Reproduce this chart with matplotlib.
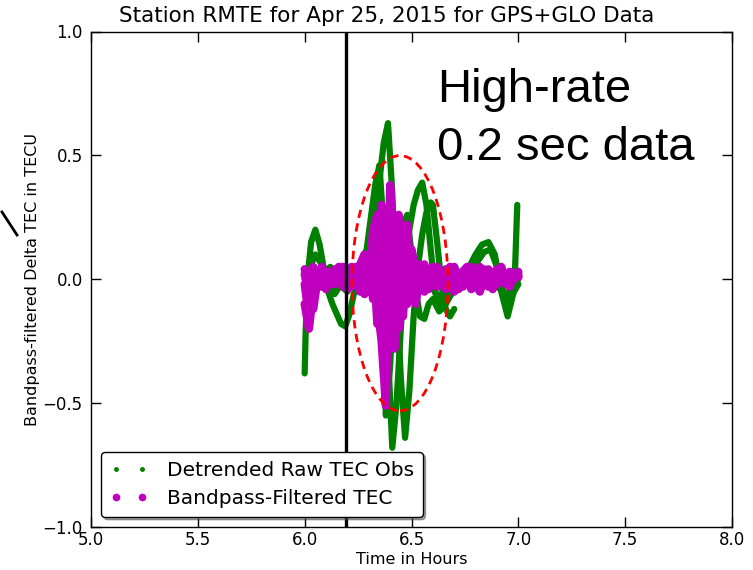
import matplotlib
matplotlib.use("Agg")
import matplotlib.pyplot as plt
from matplotlib.patches import Ellipse
from matplotlib.lines import Line2D

# ---------------- data ----------------
title = "Station RMTE for Apr 25, 2015 for GPS+GLO Data"
xlabel = "Time in Hours"
ylabel = "Bandpass-filtered Delta TEC in TECU"
legend_labels = ["Detrended Raw TEC Obs", "Bandpass-Filtered TEC"]
annotation = ["High-rate", "0.2 sec data"]

x_ticks = [5.0, 5.5, 6.0, 6.5, 7.0, 7.5, 8.0]
y_ticks = [-1.0, -0.5, 0.0, 0.5, 1.0]

event_time = 6.195
ellipse_center = (6.446, -0.016)
ellipse_size = (0.449, 1.03)

# detrended raw TEC (green) tracks
g1_t = [6.000, 6.005, 6.015, 6.030, 6.050, 6.070, 6.090, 6.110, 6.130, 6.150,
        6.170, 6.190, 6.210, 6.230, 6.250, 6.270, 6.290, 6.310, 6.330, 6.350,
        6.370, 6.390, 6.410, 6.430, 6.450, 6.470, 6.490, 6.510, 6.530, 6.550,
        6.570, 6.590, 6.600, 6.620, 6.640, 6.660, 6.680, 6.700]
g1_v = [-0.38, -0.20, 0.02, 0.15, 0.20, 0.14, 0.04, -0.05, -0.10, -0.14,
        -0.18, -0.19, -0.14, -0.06, 0.00, 0.03, 0.05, 0.12, 0.25, 0.40,
        0.55, 0.63, 0.35, -0.05, -0.40, -0.64, -0.45, -0.15, 0.05, 0.18,
        0.27, 0.31, 0.30, 0.15, -0.02, -0.12, -0.15, -0.12]

g2_t = [6.00, 6.02, 6.05, 6.08, 6.11, 6.14, 6.17, 6.20, 6.23, 6.26,
        6.29, 6.31, 6.33, 6.35, 6.37, 6.39, 6.41, 6.43, 6.45, 6.47,
        6.49, 6.51, 6.53, 6.55, 6.57, 6.59, 6.61, 6.63, 6.65, 6.68,
        6.71, 6.74, 6.77, 6.80, 6.83, 6.86, 6.89, 6.92, 6.95, 6.97,
        6.985, 6.995]
g2_v = [-0.03, 0.04, 0.10, 0.06, -0.03, -0.06, -0.02, 0.01, 0.02, 0.05,
        0.12, 0.25, 0.38, 0.46, 0.20, -0.30, -0.68, -0.50, -0.20, 0.05,
        0.20, 0.30, 0.36, 0.39, 0.30, 0.12, -0.05, -0.12, -0.10, -0.04,
        0.00, -0.02, 0.05, 0.10, 0.14, 0.15, 0.10, -0.05, -0.15, -0.08,
        0.05, 0.30]

g3_t = [6.00, 6.03, 6.06, 6.09, 6.12, 6.15, 6.18, 6.21, 6.24, 6.27,
        6.30, 6.32, 6.34, 6.36, 6.37, 6.38, 6.40, 6.42, 6.44, 6.46,
        6.48, 6.50, 6.52, 6.54, 6.56, 6.58, 6.60, 6.63, 6.66, 6.70]
g3_v = [0.00, -0.02, 0.03, 0.00, -0.04, 0.02, 0.04, 0.00, -0.03, 0.02,
        0.08, 0.20, 0.30, 0.05, -0.30, -0.55, -0.35, 0.00, 0.15, 0.22,
        0.26, 0.10, -0.05, -0.15, -0.16, -0.10, -0.08, -0.13, -0.10, -0.04]

g4_t = [6.00, 6.04, 6.08, 6.12, 6.16, 6.20, 6.24, 6.28, 6.32, 6.36,
        6.40, 6.44, 6.48, 6.52, 6.56, 6.60, 6.64, 6.68, 6.72, 6.76,
        6.80, 6.84, 6.87, 6.90, 6.93, 6.96, 6.98, 7.00]
g4_v = [0.03, -0.03, 0.02, 0.05, -0.02, -0.05, 0.02, 0.00, 0.08, -0.10,
        0.12, -0.20, 0.05, -0.03, 0.02, -0.04, -0.08, -0.05, 0.00, 0.02,
        0.06, 0.11, 0.12, 0.05, -0.05, -0.10, -0.05, -0.02]

g5_t = [6.00, 6.05, 6.10, 6.15, 6.20, 6.25, 6.30, 6.35, 6.40, 6.45,
        6.50, 6.55, 6.60, 6.65, 6.70, 6.75, 6.80, 6.85, 6.90, 6.95, 7.00]
g5_v = [-0.02, 0.04, 0.01, -0.04, 0.02, -0.03, 0.05, -0.12, 0.15, -0.10,
        0.04, -0.02, 0.03, -0.05, 0.02, 0.03, -0.02, 0.04, -0.03, -0.06, 0.00]

# bandpass-filtered TEC (magenta) tracks, common time list
m_t = [6.00, 6.02, 6.04, 6.06, 6.08, 6.10, 6.12, 6.14, 6.16, 6.18,
       6.20, 6.22, 6.24, 6.26, 6.28, 6.30, 6.32, 6.34, 6.36, 6.38,
       6.40, 6.42, 6.44, 6.46, 6.48, 6.50, 6.52, 6.54, 6.56, 6.58,
       6.60, 6.62, 6.64, 6.66, 6.68, 6.70, 6.72, 6.74, 6.76, 6.78,
       6.80, 6.82, 6.84, 6.86, 6.88, 6.90, 6.92, 6.94, 6.96, 6.98, 7.00]
m1_v = [-0.10, -0.20, -0.05, 0.03, 0.00, -0.04, 0.02, 0.04, 0.00, -0.03,
        0.02, 0.05, 0.01, -0.05, 0.03, 0.10, 0.02, -0.10, -0.25, -0.51,
        0.38, 0.05, -0.20, 0.08, 0.15, -0.05, -0.10, 0.04, 0.06, -0.02,
        0.02, 0.05, 0.00, -0.04, 0.03, 0.05, 0.00, -0.03, 0.02, 0.04,
        -0.02, -0.05, 0.01, 0.03, 0.00, -0.02, 0.03, 0.01, 0.00, 0.02, 0.01]
m2_v = [0.02, -0.05, -0.12, 0.00, 0.05, 0.02, -0.02, 0.03, 0.05, 0.01,
        -0.02, 0.04, 0.00, 0.06, 0.10, -0.05, 0.20, 0.26, -0.10, 0.15,
        -0.25, 0.05, 0.26, -0.15, 0.10, -0.05, 0.05, 0.00, -0.03, 0.04,
        0.02, -0.03, 0.00, 0.04, 0.02, -0.05, -0.02, 0.03, 0.00, -0.04,
        0.02, 0.05, 0.01, -0.03, 0.02, 0.04, -0.01, 0.00, 0.03, 0.02, 0.01]
m3_v = [0.04, 0.00, 0.05, 0.02, -0.03, 0.03, 0.00, -0.02, 0.04, 0.05,
        0.00, -0.03, 0.04, 0.02, -0.06, 0.08, -0.08, 0.12, 0.18, -0.20,
        0.22, -0.12, 0.10, 0.18, -0.10, 0.12, 0.02, 0.06, 0.02, -0.04,
        0.05, 0.03, -0.02, 0.01, 0.05, 0.02, -0.04, 0.03, 0.05, 0.00,
        -0.03, 0.03, 0.00, 0.04, -0.02, 0.02, 0.05, 0.00, -0.03, 0.02, 0.03]
m4_v = [-0.02, -0.15, 0.02, -0.03, 0.04, 0.00, 0.03, -0.01, 0.02, 0.03,
        -0.04, 0.01, 0.05, -0.02, 0.03, -0.04, 0.12, -0.18, 0.30, -0.40,
        0.28, -0.28, 0.15, -0.05, 0.22, -0.08, 0.00, 0.03, -0.05, 0.02,
        0.04, -0.02, 0.03, -0.03, 0.00, 0.04, 0.02, -0.02, 0.03, 0.05,
        0.00, -0.01, 0.04, 0.02, -0.04, 0.01, 0.03, -0.02, 0.02, 0.00, 0.02]

green_tracks = [(g1_t, g1_v), (g2_t, g2_v), (g3_t, g3_v), (g4_t, g4_v), (g5_t, g5_v)]
magenta_tracks = [m1_v, m2_v, m3_v, m4_v]

# ---------------- figure ----------------
GREEN = (0.0, 0.5, 0.0)
MAGENTA = (0.75, 0.0, 0.75)

fig = plt.figure(figsize=(7.53, 5.70), dpi=100)
ax = fig.add_axes([91 / 753, 1 - 527 / 570, (732 - 91) / 753, (527 - 31.5) / 570])

for t, v in green_tracks:
    ax.plot(t, v, color=GREEN, lw=4.5, solid_capstyle="round",
            solid_joinstyle="round", zorder=2)
for v in magenta_tracks:
    ax.plot(m_t, v, color=MAGENTA, lw=6.0, solid_capstyle="round",
            solid_joinstyle="round", zorder=3)

ax.axvline(event_time, color="black", lw=2.4, zorder=5)
ax.add_patch(Ellipse(ellipse_center, ellipse_size[0], ellipse_size[1],
                     fill=False, edgecolor="red", lw=2.0,
                     linestyle=(0, (3, 2)), zorder=6))

ax.set_xlim(5.0, 8.0)
ax.set_ylim(-1.0, 1.0)
ax.set_xticks(x_ticks)
ax.set_yticks(y_ticks)
ax.set_xticklabels([f"{x:.1f}" for x in x_ticks])
ax.set_yticklabels([f"{y:.1f}".replace("-", "\u2212") for y in y_ticks])
ax.tick_params(axis="both", direction="in", length=7, width=1, top=True, right=True,
               labelsize=12)
ax.tick_params(axis="x", pad=3)
ax.tick_params(axis="y", pad=6)
for s in ax.spines.values():
    s.set_linewidth(1.0)
    s.set_color("black")

ax.set_xlabel(xlabel, fontsize=11.5, labelpad=2)
ax.set_ylabel(ylabel, fontsize=11.5, labelpad=2)
fig.text(387 / 753, 1 - 16 / 570, title, fontsize=15.5, ha="center", va="center")

handles = [
    Line2D([], [], linestyle="none", marker=".", markersize=5, color=GREEN),
    Line2D([], [], linestyle="none", marker=".", markersize=9, color=MAGENTA),
]
leg = ax.legend(handles, legend_labels, loc="lower left", numpoints=2,
                fontsize=14.5, frameon=True, fancybox=True, shadow=True,
                borderaxespad=0.5, handlelength=1.9, handletextpad=0.9,
                labelspacing=0.45, borderpad=0.45,
                bbox_to_anchor=(0.0, 0.0))
leg.get_frame().set_edgecolor("black")
leg.get_frame().set_linewidth(1.0)
leg.get_frame().set_alpha(1.0)
leg.set_zorder(10)

fig.text(437 / 753, 1 - 102 / 570, annotation[0], fontsize=34,
         family="Liberation Sans", ha="left", va="baseline")
fig.text(437 / 753, 1 - 160 / 570, annotation[1], fontsize=34,
         family="Liberation Sans", ha="left", va="baseline")

fig.add_artist(Line2D([2 / 753, 17 / 753], [1 - 212 / 570, 1 - 235 / 570],
                      color="black", lw=2.0, transform=fig.transFigure))

fig.savefig("out.png", dpi=100, facecolor="white")
